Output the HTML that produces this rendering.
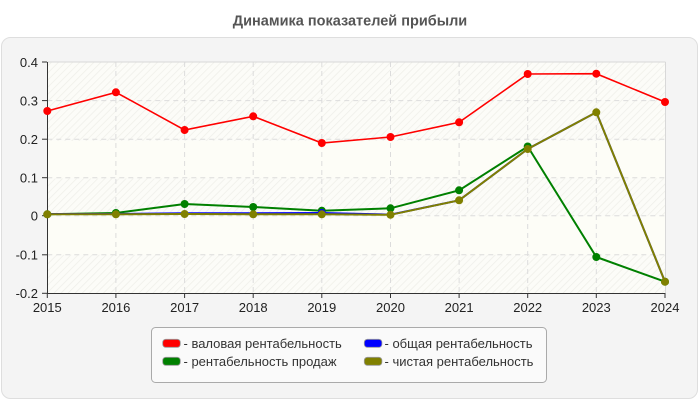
<!DOCTYPE html>
<html><head><meta charset="utf-8"><style>
html,body{margin:0;padding:0;background:#fff;}
body{width:700px;height:400px;overflow:hidden;font-family:"Liberation Sans",sans-serif;}
</style></head><body>
<svg width="700" height="400" viewBox="0 0 700 400" xmlns="http://www.w3.org/2000/svg" font-family="Liberation Sans, sans-serif">
<defs>
<pattern id="h" width="5" height="5" patternUnits="userSpaceOnUse" patternTransform="rotate(45)">
<rect width="5" height="5" fill="#fcfcf8"/>
<line x1="0" y1="0" x2="0" y2="5" stroke="#efefe9" stroke-width="1.5"/>
</pattern>
</defs>
<text x="350" y="25.5" text-anchor="middle" font-size="14.5" font-weight="bold" fill="#555">Динамика показателей прибыли</text>
<rect x="1.5" y="37.5" width="696" height="361" rx="9" fill="#f4f4f4" stroke="#dedede"/>
<!-- plot bg -->
<rect x="47.3" y="62" width="617.7" height="231.3" fill="#fdfdf7"/>
<rect x="47.3" y="62" width="617.7" height="79" fill="url(#h)"/>
<rect x="47.3" y="178.5" width="617.7" height="37.2" fill="url(#h)"/>
<rect x="47.3" y="254.8" width="617.7" height="38.5" fill="url(#h)"/>
<!-- grid -->
<g stroke="#dcdcdc" stroke-dasharray="5,4" stroke-width="1">
<line x1="47.3" y1="100.6" x2="665" y2="100.6"/>
<line x1="47.3" y1="139.2" x2="665" y2="139.2"/>
<line x1="47.3" y1="177.7" x2="665" y2="177.7"/>
<line x1="47.3" y1="215.7" x2="665" y2="215.7"/>
<line x1="47.3" y1="254.8" x2="665" y2="254.8"/>
<line x1="115.9" y1="62" x2="115.9" y2="293"/>
<line x1="184.6" y1="62" x2="184.6" y2="293"/>
<line x1="253.2" y1="62" x2="253.2" y2="293"/>
<line x1="321.8" y1="62" x2="321.8" y2="293"/>
<line x1="390.5" y1="62" x2="390.5" y2="293"/>
<line x1="459.1" y1="62" x2="459.1" y2="293"/>
<line x1="527.7" y1="62" x2="527.7" y2="293"/>
<line x1="596.3" y1="62" x2="596.3" y2="293"/>
</g>
<line x1="47.3" y1="62" x2="665.5" y2="62" stroke="#d8d8d8"/>
<line x1="665.5" y1="62" x2="665.5" y2="293.3" stroke="#d8d8d8"/>
<!-- axes -->
<g stroke="#333" stroke-width="1">
<line x1="47.5" y1="62" x2="47.5" y2="293.5"/>
<line x1="47" y1="293.5" x2="665.5" y2="293.5"/>
<line x1="42" y1="62" x2="47" y2="62"/>
<line x1="42" y1="100.6" x2="47" y2="100.6"/>
<line x1="42" y1="139.2" x2="47" y2="139.2"/>
<line x1="42" y1="177.7" x2="47" y2="177.7"/>
<line x1="42" y1="215.7" x2="47" y2="215.7"/>
<line x1="42" y1="254.8" x2="47" y2="254.8"/>
<line x1="42" y1="293.3" x2="47" y2="293.3"/>
<line x1="47.3" y1="293" x2="47.3" y2="298"/>
<line x1="115.9" y1="293" x2="115.9" y2="298"/>
<line x1="184.6" y1="293" x2="184.6" y2="298"/>
<line x1="253.2" y1="293" x2="253.2" y2="298"/>
<line x1="321.8" y1="293" x2="321.8" y2="298"/>
<line x1="390.5" y1="293" x2="390.5" y2="298"/>
<line x1="459.1" y1="293" x2="459.1" y2="298"/>
<line x1="527.7" y1="293" x2="527.7" y2="298"/>
<line x1="596.3" y1="293" x2="596.3" y2="298"/>
<line x1="665" y1="293" x2="665" y2="298"/>
</g>
<g font-size="13" fill="#222" text-anchor="end">
<text x="38" y="67">0.4</text>
<text x="38" y="105.5">0.3</text>
<text x="38" y="144">0.2</text>
<text x="38" y="182.5">0.1</text>
<text x="38" y="220.5">0</text>
<text x="38" y="259.5">-0.1</text>
<text x="38" y="298">-0.2</text>
</g>
<g font-size="13" fill="#222" text-anchor="middle">
<text x="47.3" y="312">2015</text>
<text x="115.9" y="312">2016</text>
<text x="184.6" y="312">2017</text>
<text x="253.2" y="312">2018</text>
<text x="321.8" y="312">2019</text>
<text x="390.5" y="312">2020</text>
<text x="459.1" y="312">2021</text>
<text x="527.7" y="312">2022</text>
<text x="596.3" y="312">2023</text>
<text x="665" y="312">2024</text>
</g>
<!-- red -->
<g fill="#ff0000">
<polyline fill="none" stroke="#ff0000" stroke-width="1.6" points="47.3,111 115.9,92.3 184.6,130 253.2,116.3 321.8,143 390.5,137 459.1,122.3 527.7,74 596.3,73.7 665,102"/>
<circle cx="47.3" cy="111" r="4"/><circle cx="115.9" cy="92.3" r="4"/><circle cx="184.6" cy="130" r="4"/><circle cx="253.2" cy="116.3" r="4"/><circle cx="321.8" cy="143" r="4"/><circle cx="390.5" cy="137" r="4"/><circle cx="459.1" cy="122.3" r="4"/><circle cx="527.7" cy="74" r="4"/><circle cx="596.3" cy="73.7" r="4"/><circle cx="665" cy="102" r="4"/>
</g>
<!-- green -->
<g fill="#008000">
<polyline fill="none" stroke="#008000" stroke-width="2" points="47.3,214.3 115.9,213 184.6,204 253.2,207 321.8,210.7 390.5,208.3 459.1,190.3 527.7,146.5 596.3,257 665,281.7"/>
<circle cx="47.3" cy="214.3" r="4"/><circle cx="115.9" cy="213" r="4"/><circle cx="184.6" cy="204" r="4"/><circle cx="253.2" cy="207" r="4"/><circle cx="321.8" cy="210.7" r="4"/><circle cx="390.5" cy="208.3" r="4"/><circle cx="459.1" cy="190.3" r="4"/><circle cx="527.7" cy="146.5" r="4"/><circle cx="596.3" cy="257" r="4"/><circle cx="665" cy="281.7" r="4"/>
</g>
<!-- blue -->
<g fill="#0000ff">
<polyline fill="none" stroke="#0000ff" stroke-width="2" points="47.3,214 115.9,214 184.6,213.2 253.2,213.2 321.8,213 390.5,214.6 459.1,200.3 527.7,149 596.3,112.3 665,281.7"/>
<circle cx="321.8" cy="213" r="4"/>
</g>
<!-- olive -->
<g fill="#808000">
<polyline fill="none" stroke="#808000" stroke-width="2" points="47.3,214.3 115.9,214.3 184.6,214 253.2,214.3 321.8,214.3 390.5,214.8 459.1,200.3 527.7,149 596.3,112.3 665,281.7"/>
<circle cx="47.3" cy="214.3" r="4"/><circle cx="115.9" cy="214.3" r="4"/><circle cx="184.6" cy="214" r="4"/><circle cx="253.2" cy="214.3" r="4"/><circle cx="321.8" cy="214.3" r="4"/><circle cx="390.5" cy="214.8" r="4"/><circle cx="459.1" cy="200.3" r="4"/><circle cx="527.7" cy="149" r="4"/><circle cx="596.3" cy="112.3" r="4"/><circle cx="665" cy="281.7" r="4"/>
</g>
<!-- legend -->
<rect x="151.5" y="327.5" width="395" height="55" rx="4" fill="#fafafa" stroke="#aaaaaa"/>
<g stroke="#999" stroke-width="0.8">
<rect x="162.7" y="339.3" width="17.6" height="8" rx="3" fill="#ff0000"/>
<rect x="162.7" y="357.3" width="17.6" height="8" rx="3" fill="#008000"/>
<rect x="364.3" y="339.3" width="17.6" height="8" rx="3" fill="#0000ff"/>
<rect x="364.3" y="357.3" width="17.6" height="8" rx="3" fill="#808000"/>
</g>
<g font-size="13" fill="#333">
<text x="183.5" y="348">- валовая рентабельность</text>
<text x="183.5" y="366">- рентабельность продаж</text>
<text x="384.5" y="348">- общая рентабельность</text>
<text x="384.5" y="366">- чистая рентабельность</text>
</g>
</svg>
</body></html>
